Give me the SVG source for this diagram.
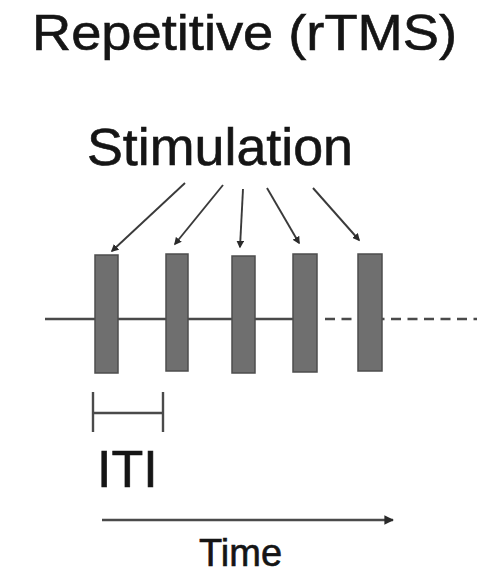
<svg xmlns="http://www.w3.org/2000/svg" width="477" height="573" viewBox="0 0 477 573">
  <style>
    .lbl { font-family: "Liberation Sans", Arial, sans-serif; fill: #151515; stroke: #151515; stroke-width: 0.6; }
    .pulse { fill: #6f6f6f; stroke: #4d4d4d; stroke-width: 1.5; }
    .axis { stroke: #4a4a4a; stroke-width: 2.4; fill: none; }
    .ptr { stroke: #3a3a3a; stroke-width: 1.9; fill: none; marker-end: url(#dot); }
  </style>
  <defs>
    <marker id="dot" viewBox="0 0 10 10" refX="8" refY="5" markerWidth="4" markerHeight="4" orient="auto" markerUnits="strokeWidth">
      <path d="M0,0 L10,5 L0,10 z" fill="#2a2a2a"/>
    </marker>
    <marker id="head" viewBox="0 0 10 10" refX="9" refY="5" markerWidth="4" markerHeight="4" orient="auto" markerUnits="strokeWidth">
      <path d="M0,0 L10,5 L0,10 z" fill="#2a2a2a"/>
    </marker>
  </defs>
  <rect width="477" height="573" fill="#ffffff"/>

  <g id="title">
    <text class="lbl" x="32" y="50" font-size="50" textLength="425" lengthAdjust="spacingAndGlyphs">Repetitive (rTMS)</text>
  </g>
  <g id="stimulation-label">
    <text class="lbl" x="87" y="165" font-size="51" textLength="266" lengthAdjust="spacingAndGlyphs">Stimulation</text>
  </g>

  <g id="connectors">
    <!-- timeline: solid through the fourth pulse, dashed after -->
    <line class="axis" x1="45" y1="319" x2="293" y2="319"/>
    <line class="axis" x1="325" y1="319" x2="477" y2="319" stroke-dasharray="10 6.5"/>
    <!-- pointers from the label to each pulse -->
    <line class="ptr" x1="185" y1="183" x2="112" y2="251"/>
    <line class="ptr" x1="223" y1="185" x2="175" y2="244"/>
    <line class="ptr" x1="243" y1="189" x2="240" y2="247"/>
    <line class="ptr" x1="267" y1="188" x2="299" y2="243"/>
    <line class="ptr" x1="313" y1="188" x2="359" y2="240"/>
    <!-- inter-train interval bracket -->
    <line class="axis" x1="93" y1="392" x2="93" y2="432"/>
    <line class="axis" x1="163" y1="392" x2="163" y2="432"/>
    <line class="axis" x1="93" y1="413" x2="163" y2="413"/>
    <!-- time axis -->
    <line class="axis" x1="102" y1="520" x2="393" y2="520" stroke-width="2.6" marker-end="url(#head)"/>
  </g>

  <g id="pulse-1"><rect class="pulse" x="95" y="255" width="23" height="118"/></g>
  <g id="pulse-2"><rect class="pulse" x="166" y="254" width="22" height="117"/></g>
  <g id="pulse-3"><rect class="pulse" x="232" y="256" width="23" height="117"/></g>
  <g id="pulse-4"><rect class="pulse" x="293" y="254" width="24" height="118"/></g>
  <g id="pulse-5"><rect class="pulse" x="358" y="254" width="24" height="117"/></g>

  <g id="iti-label">
    <text class="lbl" x="97" y="487" font-size="52">ITI</text>
  </g>
  <g id="time-label">
    <text class="lbl" x="199" y="566" font-size="38">Time</text>
  </g>
</svg>
